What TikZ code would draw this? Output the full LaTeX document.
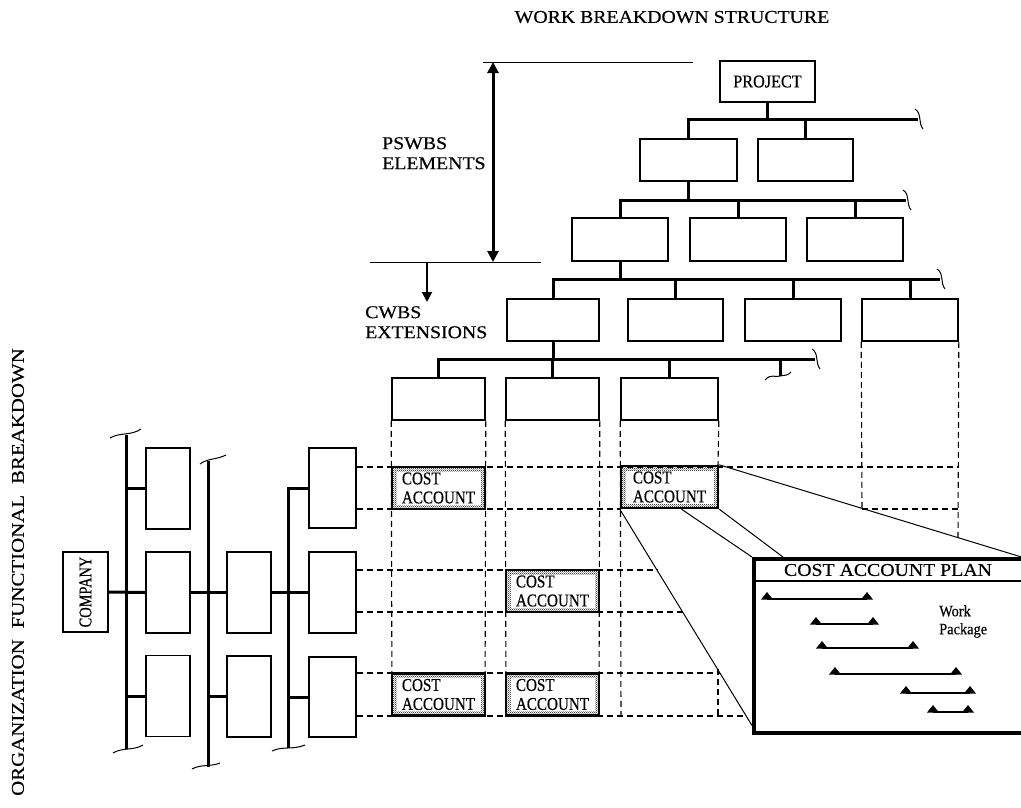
\documentclass[tikz,border=0pt]{standalone}
\usepackage{graphicx}
\usepackage{fontspec}
\setmainfont{Liberation Serif}
\newfontfamily\widef[FakeStretch=1.1,FakeBold=0.4]{Liberation Serif}
\newfontfamily\xwidef[FakeStretch=1.16,FakeBold=0.4]{Liberation Serif}
\newfontfamily\condf[FakeStretch=0.84,FakeBold=0.4]{Liberation Serif}
\newfontfamily\compf[FakeStretch=0.8,FakeBold=0.4]{Liberation Serif}
\newfontfamily\wpf[FakeStretch=0.9,FakeBold=0.4]{Liberation Serif}
\usetikzlibrary{arrows.meta,patterns,calc}
\pgfdeclarepatternformonly{stipple}{\pgfpointorigin}{\pgfpoint{2.2pt}{2.2pt}}{\pgfpoint{2.2pt}{2.2pt}}{%
  \pgfpathcircle{\pgfpoint{0.55pt}{0.55pt}}{0.6pt}%
  \pgfpathcircle{\pgfpoint{1.65pt}{1.65pt}}{0.6pt}%
  \pgfusepath{fill}}
\newcommand\wbsbrace[1]{\draw[squig] ($(#1)+(-3,-10)$) .. controls ($(#1)+(4,-6)$) and ($(#1)+(0,4)$) .. ($(#1)+(5,10)$);}
\newcommand\wpbar[3]{\draw[wp] (#1,#3) -- (#2,#3);
  \fill (#1-6,#3+0.5) -- (#1,#3-7) -- (#1+6,#3+0.5) -- cycle;
  \fill (#2-6,#3+0.5) -- (#2,#3-7) -- (#2+6,#3+0.5) -- cycle;}
\begin{document}
\begin{tikzpicture}[x=1pt,y=-1pt,
  wbox/.style={draw,line width=1.6pt,inner sep=0pt,minimum height=42pt},
  obox/.style={draw,line width=1.6pt,inner sep=0pt,minimum width=44pt,minimum height=81pt},
  bar/.style={line width=3pt,line join=miter},
  grid/.style={line width=1.1pt,dash pattern=on 6pt off 4pt},
  thinl/.style={line width=1pt},
  squig/.style={line width=1pt},
  cone/.style={line width=1pt},
  wp/.style={line width=1.4pt},
  ca/.style={draw,line width=2.4pt,inner sep=0pt,minimum height=42pt,
    pattern=stipple,pattern color=black,align=left,
    font=\condf\fontsize{18}{19}\selectfont,
    path picture={\fill[white] ([shift={(4.5pt,-4.5pt)}]path picture bounding box.north west) rectangle ([shift={(-4.5pt,4.5pt)}]path picture bounding box.south east);}},
  lab/.style={font=\widef\fontsize{18}{20}\selectfont,inner sep=0pt,align=left},
]
\useasboundingbox (0,0) rectangle (1021,807);

% ---------- titles ----------
\node[lab] (title) at (672,17) {WORK BREAKDOWN STRUCTURE};
\node[lab,anchor=north west] (pswbs) at (382,137) {PSWBS\\ELEMENTS};
\node[lab,anchor=north west] (cwbs) at (365,306) {CWBS\\EXTENSIONS};
\node[inner sep=0pt,font=\xwidef\fontsize{18}{20}\selectfont] (ofb) at (18,572) {\rotatebox{90}{ORGANIZATION\hspace{11pt}FUNCTIONAL\hspace{11pt}BREAKDOWN}};

% ---------- PSWBS / CWBS markers ----------
\coordinate (pt) at (493,62);
\coordinate (pb) at (493,262);
\coordinate (tl) at (483,62);
\coordinate (tr) at (693,62);
\coordinate (bl) at (370,262);
\coordinate (br) at (541,262);
\coordinate (dn1) at (427,262);
\coordinate (dn2) at (427,302);
\draw[thinl] (tl) -- (tr);
\draw[thinl] (bl) -- (br);
\draw[line width=3pt,{Triangle[width=11pt,length=11pt]}-{Triangle[width=11pt,length=11pt]}] (pt) -- (pb);
\draw[line width=2pt,-{Triangle[width=10pt,length=10pt]}] (dn1) -- (dn2);

% ---------- WBS boxes ----------
\node[wbox,minimum width=95pt,minimum height=41pt,font=\wpf\fontsize{18}{20}\selectfont] (project) at (767.5,81.5) {PROJECT};
\node[wbox,minimum width=97pt] (r1a) at (688.5,160) {};
\node[wbox,minimum width=95pt] (r1b) at (805.5,160) {};
\node[wbox,minimum width=96pt,minimum height=43pt] (r2a) at (620,239.5) {};
\node[wbox,minimum width=96pt,minimum height=43pt] (r2b) at (738,239.5) {};
\node[wbox,minimum width=96pt,minimum height=43pt] (r2c) at (855,239.5) {};
\node[wbox,minimum width=92pt] (r3a) at (553,320) {};
\node[wbox,minimum width=95pt] (r3b) at (675.5,320) {};
\node[wbox,minimum width=96pt] (r3c) at (793,320) {};
\node[wbox,minimum width=96pt] (r3d) at (910,320) {};
\node[wbox,minimum width=93pt] (r4a) at (438.5,399) {};
\node[wbox,minimum width=93pt] (r4b) at (552.5,399) {};
\node[wbox,minimum width=97pt] (r4c) at (669.5,399) {};

% ---------- WBS bars ----------
\coordinate (b1e) at (918,119);
\coordinate (b2e) at (906,200);
\coordinate (b3e) at (940,279);
\coordinate (b4e) at (815,359);
\draw[bar] (r1a.north) |- (b1e);
\draw[bar] (project.south) -- (project.south |- b1e);
\draw[bar] (r1b.north) -- (r1b.north |- b1e);
\wbsbrace{b1e}
\draw[bar] (r2a.north) |- (b2e);
\draw[bar] (r1a.south) -- (r1a.south |- b2e);
\draw[bar] (r2b.north) -- (r2b.north |- b2e);
\draw[bar] (r2c.north) -- (r2c.north |- b2e);
\wbsbrace{b2e}
\draw[bar] (r3a.north) |- (b3e);
\draw[bar] (r2a.south) -- (r2a.south |- b3e);
\draw[bar] (r3b.north) -- (r3b.north |- b3e);
\draw[bar] (r3c.north) -- (r3c.north |- b3e);
\draw[bar] (r3d.north) -- (r3d.north |- b3e);
\wbsbrace{b3e}
\draw[bar] (r4a.north) |- (b4e);
\draw[bar] (r3a.south) -- (r3a.south |- b4e);
\draw[bar] (r4b.north) -- (r4b.north |- b4e);
\draw[bar] (r4c.north) -- (r4c.north |- b4e);
\coordinate (stubt) at (780,359);
\coordinate (stubb) at (780,376);
\draw[bar] (stubt) -- (stubb);
\draw[squig] (765,380) .. controls (771,373) and (776,378) .. (780,376) .. controls (784,375) and (788,376) .. (791,372);
\wbsbrace{b4e}

% ---------- organisation chart ----------
\node[obox,minimum width=45pt,minimum height=80pt,font=\compf\fontsize{18}{20}\selectfont] (company) at (85.5,592) {\rotatebox{90}{COMPANY}};
\node[obox] (A1) at (168,488.5) {};
\node[obox] (A2) at (168,592.5) {};
\node[obox] (A3) at (168,696) {};
\node[obox] (B2) at (249,592.5) {};
\node[obox] (B3) at (249,696.5) {};
\node[obox,minimum width=47pt,minimum height=80pt] (C1) at (332.5,488) {};
\node[obox,minimum width=47pt] (C2) at (332.5,592.5) {};
\node[obox,minimum width=47pt,minimum height=80pt] (C3) at (332.5,697) {};

\coordinate (o1t) at (126,435);
\coordinate (o1b) at (126,749);
\coordinate (o2t) at (208,461);
\coordinate (o2b) at (208,767);
\coordinate (o3b) at (288,748);
\draw[bar] (o1t) -- (o1b);
\draw[bar] (o2t) -- (o2b);
\draw[bar] (C1.west) -| (o3b);
\draw[bar] (company.east) -- (A2.west);
\draw[bar] (A2.east) -- (B2.west);
\draw[bar] (B2.east) -- (C2.west);
\draw[bar] (A1.west) -- (A1.west -| o1t);
\draw[bar] (A3.west) -- (A3.west -| o1t);
\draw[bar] (B3.west) -- (B3.west -| o2t);
\draw[bar] (C3.west) -- (C3.west -| o3b);
\draw[squig] (110,438) .. controls (120,432) and (131,436) .. (141,429);
\draw[squig] (113,753) .. controls (123,747) and (133,751) .. (143,745);
\draw[squig] (200,464) .. controls (208,458) and (216,460) .. (226,455);
\draw[squig] (192,769) .. controls (201,764) and (210,767) .. (220,763);
\draw[squig] (272,751) .. controls (282,746) and (293,750) .. (305,745);

% ---------- dashed grid ----------
\draw[grid] (r4a.south west) -- (392,716);
\draw[grid] (r4a.south east) -- (485,716);
\draw[grid] (r4b.south west) -- (506,716);
\draw[grid] (r4b.south east) -- (599,716);
\draw[grid] (r4c.south west) -- (621,716);
\draw[grid] (r4c.south east) -- (718,466);
\draw[grid] (718,669) -- (718,716);
\draw[grid] (r3d.south west) -- (862,509);
\draw[grid] (r3d.south east) -- (958,539);
\draw[grid] (C1.east |- 0,467) -- (958,467);
\draw[grid] (C1.east |- 0,509) -- (621,509);
\draw[grid] (862,509) -- (958,509);
\draw[grid] (C2.east |- 0,570) -- (658,570);
\draw[grid] (C2.east |- 0,612) -- (684,612);
\draw[grid] (C3.east |- 0,673) -- (720,673);
\draw[grid] (C3.east |- 0,716) -- (746,716);

% ---------- cost accounts ----------
\node[ca,minimum width=93pt] (ca1) at (438.5,488) {COST\\ACCOUNT};
\node[ca,minimum width=97pt] (ca2) at (669.5,487) {COST\\ACCOUNT};
\node[ca,minimum width=93pt] (ca3) at (552.5,591) {COST\\ACCOUNT};
\node[ca,minimum width=93pt] (ca4) at (438.5,694.5) {COST\\ACCOUNT};
\node[ca,minimum width=93pt] (ca5) at (552.5,694.5) {COST\\ACCOUNT};

% ---------- cost account plan ----------
\node[draw,line width=3.5pt,anchor=north west,minimum width=272pt,minimum height=174pt,inner sep=0pt] (plan) at (752,557) {};
\draw[cone] (ca2.north east) -- ([xshift=-6pt]plan.north east);
\draw[cone] (ca2.south west) -- ([yshift=9pt]plan.south west);
\draw[cone] ([xshift=12pt]ca2.south) -- (plan.north west);
\draw[cone] (ca2.south east) -- ([xshift=31pt]plan.north west);
\coordinate (hl) at (752,581);
\coordinate (hr) at (1021,581);
\draw[line width=1.3pt] (hl) -- (hr);
\node[lab] (plantitle) at (888,570) {COST ACCOUNT PLAN};
\node[font=\wpf\fontsize{16}{18}\selectfont,align=left,inner sep=0pt,anchor=north west] (wpk) at (939,605) {Work\\Package};
\wpbar{767}{867}{599}
\wpbar{816}{873}{624}
\wpbar{822}{913}{648}
\wpbar{835}{956}{674}
\wpbar{906}{970}{693}
\wpbar{933}{968}{712}
\end{tikzpicture}
\end{document}
